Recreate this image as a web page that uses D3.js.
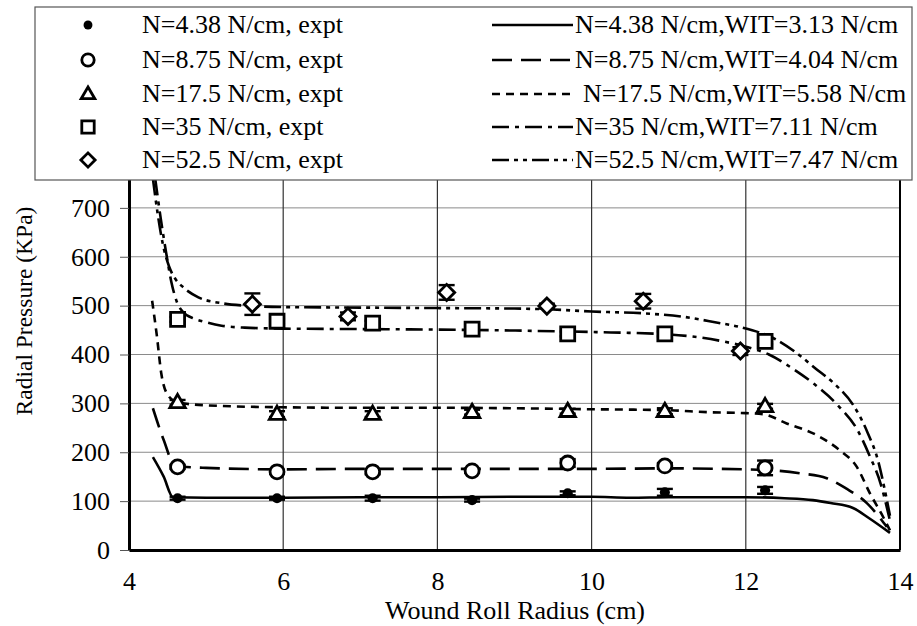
<!DOCTYPE html>
<html><head><meta charset="utf-8">
<script src="https://cdn.jsdelivr.net/npm/d3@7/dist/d3.min.js"></script>
</head><body style="margin:0">
<svg id="chart" width="917" height="626"></svg>
<script>
// ---- Data -------------------------------------------------------------
const xTicks = [4, 6, 8, 10, 12, 14];
const yTicks = [0, 100, 200, 300, 400, 500, 600, 700, 800];

// Measured radius positions (cm)
const xExpt = [4.63, 5.92, 7.16, 8.45, 9.69, 10.95, 12.25];
const xExpt52 = [5.6, 6.84, 8.12, 9.42, 10.67, 11.93];

// Measured radial pressure (kPa) and error half-widths
const expt438 = [106, 106, 106, 102, 116, 118, 122];
const err438 = [3, 3, 5, 3, 4, 7, 7];
const expt875 = [170, 160, 160, 162, 178, 172, 168];
const err875 = [4, 4, 5, 4, 8, 6, 15];
const expt175 = [302, 278, 278, 282, 284, 284, 294];
const err175 = [5, 6, 6, 5, 5, 6, 5];
const expt35 = [472, 468, 464, 452, 442, 442, 427];
const err35 = [5, 5, 5, 5, 5, 5, 6];
const expt525 = [503, 478, 527, 499, 509, 407];
const err525 = [22, 8, 15, 5, 15, 8];

// Model curves [radius cm, pressure kPa]
const model438 = [[4.31,190],[4.45,150],[4.57,108],[5,107],[6,107],[7,108],[8,108],[9,109],[10,109],[10.5,107],[11,108],[12,108],[12.5,106],[12.87,102],[13.1,96],[13.39,86],[13.6,65],[13.87,35]];
const model875 = [[4.31,290],[4.45,225],[4.6,172],[5,168],[6,165],[7,166],[8,166],[9,166],[10,166],[11,167],[12,165],[12.35,163],[12.7,157],[13.05,147],[13.3,126],[13.57,96],[13.83,47]];
const model175 = [[4.3,510],[4.36,440],[4.42,360],[4.5,318],[4.63,302],[5,296],[6,292],[7,291],[8,291],[9,290],[10,288],[11,286],[11.5,282],[12,280],[12.22,278],[12.53,259],[12.92,235],[13.22,204],[13.44,170],[13.61,116],[13.78,68],[13.87,40]];
const model35 = [[4.34,760],[4.41,680],[4.48,610],[4.55,548],[4.62,508],[4.7,487],[4.85,473],[5,466],[5.2,459],[5.5,455],[6,453],[7,452],[8,451],[9,449],[10,446],[11,441],[11.4,435],[11.7,427],[12,416],[12.3,400],[12.6,372],[12.9,338],[13.2,295],[13.45,245],[13.6,195],[13.75,135],[13.87,60]];
const model525 = [[4.31,760],[4.37,690],[4.44,625],[4.52,580],[4.6,555],[4.7,538],[4.9,517],[5.2,505],[5.5,500],[6,497],[7,496],[8,495],[9,494],[9.5,492],[10,488],[10.7,484],[11.2,477],[11.6,466],[11.93,456],[12.4,430],[12.66,403],[12.9,372],[13.15,340],[13.4,295],[13.58,240],[13.72,180],[13.8,125],[13.87,70]];

const exptLabels = ["N=4.38 N/cm, expt", "N=8.75 N/cm, expt", "N=17.5 N/cm, expt", "N=35 N/cm, expt", "N=52.5 N/cm, expt"];
const modelLabels = ["N=4.38 N/cm,WIT=3.13 N/cm", "N=8.75 N/cm,WIT=4.04 N/cm", "N=17.5 N/cm,WIT=5.58 N/cm", "N=35 N/cm,WIT=7.11 N/cm", "N=52.5 N/cm,WIT=7.47 N/cm"];

// ---- Styles per series ------------------------------------------------
const FONT = "Liberation Serif";
const shapes = ["dot", "circle", "triangle", "square", "diamond"];
const dashes = [null, "20,9", "8,6", "17,6,4,6", "17,5,4,5,4,5"];

const series = [
  { xs: xExpt, ys: expt438, es: err438, model: model438 },
  { xs: xExpt, ys: expt875, es: err875, model: model875 },
  { xs: xExpt, ys: expt175, es: err175, model: model175 },
  { xs: xExpt, ys: expt35, es: err35, model: model35 },
  { xs: xExpt52, ys: expt525, es: err525, model: model525 }
];

// ---- Layout -----------------------------------------------------------
const svg = d3.select("#chart");
const plotL = 129, plotR = 900, plotT = 159, plotB = 550;

const x = d3.scaleLinear().domain([4, 14]).range([plotL, plotR]);
const y = d3.scaleLinear().domain([0, 800]).range([plotB, plotT]);

// Grid lines
const grid = svg.append("g");
grid.selectAll("line.h").data(yTicks.filter(d => d > 0)).join("line")
  .attr("x1", plotL).attr("x2", plotR)
  .attr("y1", d => y(d)).attr("y2", d => y(d))
  .attr("stroke", "#8a8a8a").attr("stroke-width", 1);
grid.selectAll("line.v").data(xTicks.filter(d => d > 4 && d < 14)).join("line")
  .attr("x1", d => x(d)).attr("x2", d => x(d))
  .attr("y1", plotT).attr("y2", plotB)
  .attr("stroke", "#333").attr("stroke-width", 1.2);

// Plot frame: right border and top edge
svg.append("line").attr("x1", plotR).attr("x2", plotR).attr("y1", plotT).attr("y2", plotB)
  .attr("stroke", "#000").attr("stroke-width", 2);
svg.append("line").attr("x1", plotL).attr("x2", plotR).attr("y1", plotT).attr("y2", plotT)
  .attr("stroke", "#8a8a8a").attr("stroke-width", 1);

// Axes (heavy left and bottom lines)
const yAxis = d3.axisLeft(y).tickValues(yTicks).tickSize(9).tickSizeOuter(0).tickPadding(10);
const gy = svg.append("g").attr("transform", `translate(${plotL},0)`).call(yAxis);
gy.attr("font-family", null).attr("font-size", null);
gy.select(".domain").attr("stroke-width", 3);
gy.selectAll(".tick line").attr("stroke", "#555").attr("stroke-width", 1);

const xAxis = d3.axisBottom(x).tickValues(xTicks).tickSize(0).tickSizeOuter(0).tickPadding(22);
const gx = svg.append("g").attr("transform", `translate(0,${plotB})`).call(xAxis);
gx.attr("font-family", null).attr("font-size", null);
gx.select(".domain").attr("stroke-width", 3);

[gy, gx].forEach(g => g.selectAll(".tick text")
  .attr("font-family", FONT).attr("font-size", 26).attr("fill", "#000"));

// Axis titles
svg.append("text").attr("x", 515).attr("y", 619).attr("text-anchor", "middle")
  .attr("font-family", FONT).attr("font-size", 26).text("Wound Roll Radius (cm)");
svg.append("text").attr("transform", "translate(32,311) rotate(-90)")
  .attr("text-anchor", "middle").attr("font-family", FONT).attr("font-size", 23.5)
  .text("Radial Pressure (KPa)");

// ---- Marker shapes ----------------------------------------------------
function markerPath(shape, s) {
  // s: nominal half-size in px
  switch (shape) {
    case "dot": return d3.symbol(d3.symbolCircle, Math.PI * (s * 0.72) ** 2)();
    case "circle": return d3.symbol(d3.symbolCircle, Math.PI * s * s)();
    case "square": return `M${-s},${-s}H${s}V${s}H${-s}Z`;
    case "triangle": {
      const h = s * 1.9;
      return `M0,${-h * 0.6}L${s * 1.1},${h * 0.4}L${-s * 1.1},${h * 0.4}Z`;
    }
    case "diamond": return `M0,${-s * 1.15}L${s * 1.15},0L0,${s * 1.15}L${-s * 1.15},0Z`;
  }
}
function styleMarker(sel, shape) {
  if (shape === "dot") sel.attr("fill", "#000").attr("stroke", "none");
  else sel.attr("fill", "#fff").attr("stroke", "#000").attr("stroke-width", 2.8);
}

// ---- Model curves -----------------------------------------------------
const line = d3.line().x(d => x(d[0])).y(d => y(d[1])).curve(d3.curveMonotoneX);
svg.append("clipPath").attr("id", "plotClip")
  .append("rect").attr("x", plotL).attr("y", plotT).attr("width", plotR - plotL).attr("height", plotB - plotT);

const curves = svg.append("g").attr("clip-path", "url(#plotClip)");
series.forEach((s, i) => {
  curves.append("path").datum(s.model)
    .attr("d", line)
    .attr("fill", "none").attr("stroke", "#000").attr("stroke-width", 2.6)
    .attr("stroke-dasharray", dashes[i]);
});

// ---- Experimental points with error bars ------------------------------
series.forEach((s, i) => {
  const g = svg.append("g");
  const pts = s.xs.map((xv, k) => ({ x: xv, y: s.ys[k], e: s.es[k] }));
  const eb = g.selectAll("g.eb").data(pts).join("g");
  eb.append("line").attr("x1", d => x(d.x)).attr("x2", d => x(d.x))
    .attr("y1", d => y(d.y - d.e)).attr("y2", d => y(d.y + d.e))
    .attr("stroke", "#000").attr("stroke-width", 2);
  eb.append("line").attr("x1", d => x(d.x) - 8).attr("x2", d => x(d.x) + 8)
    .attr("y1", d => y(d.y + d.e)).attr("y2", d => y(d.y + d.e))
    .attr("stroke", "#000").attr("stroke-width", 2.4);
  eb.append("line").attr("x1", d => x(d.x) - 8).attr("x2", d => x(d.x) + 8)
    .attr("y1", d => y(d.y - d.e)).attr("y2", d => y(d.y - d.e))
    .attr("stroke", "#000").attr("stroke-width", 2.4);
  g.selectAll("path").data(pts).join("path")
    .attr("transform", d => `translate(${x(d.x)},${y(d.y)})`)
    .attr("d", markerPath(shapes[i], 7))
    .call(styleMarker, shapes[i]);
});

// ---- Legend -----------------------------------------------------------
const legend = svg.append("g");
legend.append("rect").attr("x", 35).attr("y", 7).attr("width", 877).attr("height", 173)
  .attr("fill", "#fff").attr("stroke", "#555").attr("stroke-width", 1.2);
const rowY = [25, 60, 94, 127, 160];
exptLabels.forEach((lab, i) => {
  legend.append("path").attr("transform", `translate(88,${rowY[i]})`)
    .attr("d", markerPath(shapes[i], 6.2)).call(styleMarker, shapes[i]);
  legend.append("text").attr("x", 142).attr("y", rowY[i] + 8)
    .attr("font-family", FONT).attr("font-size", 26).text(lab);
});
modelLabels.forEach((lab, i) => {
  legend.append("line").attr("x1", 492).attr("x2", 573)
    .attr("y1", rowY[i]).attr("y2", rowY[i])
    .attr("stroke", "#000").attr("stroke-width", 2.6)
    .attr("stroke-dasharray", dashes[i]);
  legend.append("text").attr("x", i === 2 ? 583 : 575).attr("y", rowY[i] + 8)
    .attr("font-family", FONT).attr("font-size", 26).text(lab);
});
</script>
</body></html>
